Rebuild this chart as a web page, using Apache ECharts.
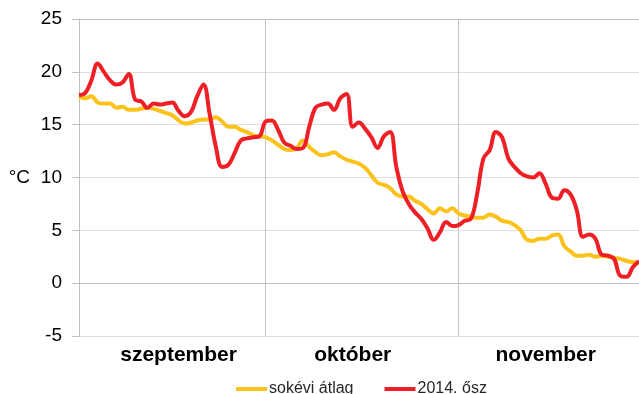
<!DOCTYPE html>
<html>
<head>
<meta charset="utf-8">
<script src="https://cdn.jsdelivr.net/npm/echarts@6/dist/echarts.min.js"></script>
<style>
  html, body { margin: 0; padding: 0; background: #fff; }
  #chart { width: 639px; height: 394px; }
</style>
</head>
<body>
<div id="chart"></div>
<script>
// Daily mean temperatures, 1 September – 30 November (°C)
const months = ['szeptember', 'október', 'november'];
const monthLengths = [30, 31, 30];
const monthLabelDays = [16, 44, 75];     // day index where each month name sits
const monthStartDays = [30, 61];         // day index of 1 Oct and 1 Nov

const yTicks = [-5, 0, 5, 10, 15, 20, 25];

// long-term average
const averageTemp = [
  17.6, 17.5, 17.7, 17.1, 17.0, 17.0, 16.6, 16.7, 16.4, 16.4,
  16.5, 16.6, 16.5, 16.3, 16.1, 15.9, 15.4, 15.1, 15.2, 15.4,
  15.5, 15.5, 15.7, 15.3, 14.8, 14.8, 14.5, 14.3, 14.0, 13.9,
  13.8, 13.5, 13.1, 12.7, 12.6, 12.8, 13.5, 12.9, 12.4, 12.1,
  12.2, 12.4, 12.0, 11.7, 11.5, 11.3, 10.9, 10.2, 9.5, 9.3,
  9.0, 8.4, 8.2, 8.2, 7.8, 7.5, 7.0, 6.6, 7.1, 6.8,
  7.1, 6.6, 6.4, 6.3, 6.2, 6.2, 6.5, 6.3, 5.9, 5.8,
  5.5, 5.0, 4.1, 4.0, 4.2, 4.2, 4.5, 4.6, 3.5, 3.0,
  2.6, 2.6, 2.7, 2.5, 2.6, 2.5, 2.4, 2.3, 2.1, 2.0,
  1.9
];

// autumn 2014
const autumn2014 = [
  17.8, 18.0, 19.2, 20.8, 20.0, 19.2, 18.8, 19.0, 19.8, 17.4,
  17.2, 16.6, 17.0, 16.9, 17.0, 17.1, 16.3, 15.8, 16.2, 17.7,
  18.8, 16.0, 12.9, 11.0, 11.2, 12.3, 13.5, 13.7, 13.8, 13.9,
  15.3, 15.4, 14.5, 13.3, 13.0, 12.7, 12.8, 14.8, 16.6, 16.9,
  17.0, 16.4, 17.5, 17.9, 14.8, 15.2, 14.6, 13.8, 12.8, 13.9,
  14.3, 11.0, 8.7, 7.5, 6.7, 6.1, 5.2, 4.1, 4.8, 5.8,
  5.4, 5.5, 5.9, 6.1, 8.5, 11.8, 12.6, 14.3, 13.8, 11.8,
  11.0, 10.4, 10.1, 10.0, 10.4, 9.4, 8.1, 8.0, 8.8, 8.4,
  6.9, 4.4, 4.6, 4.2, 2.7, 2.6, 2.3, 0.7, 0.6, 1.5,
  2.1
];

const seriesNames = ['sokévi átlag', '2014. ősz'];

// one category per day, e.g. "09-01"
const days = [];
monthLengths.forEach((len, m) => {
  for (let d = 1; d <= len; d++) {
    days.push(String(m + 9).padStart(2, '0') + '-' + String(d).padStart(2, '0'));
  }
});

function monthOfDay(i) {
  let acc = 0;
  for (let m = 0; m < monthLengths.length; m++) {
    acc += monthLengths[m];
    if (i < acc) return m;
  }
  return monthLengths.length - 1;
}

const chart = echarts.init(document.getElementById('chart'), null, { renderer: 'canvas' });

const font = '"Liberation Sans", Arial, sans-serif';

chart.setOption({
  animation: false,
  textStyle: { fontFamily: font },
  grid: { left: 79, right: 0, top: 19, bottom: 58, containLabel: false },
  legend: {
    data: seriesNames,
    left: 231,
    top: 376,
    icon: 'rect',
    itemWidth: 31,
    itemHeight: 4,
    itemGap: 31,
    textStyle: { fontSize: 16, color: '#262626', fontFamily: font, padding: [0, 0, 0, -3] }
  },
  xAxis: {
    type: 'category',
    data: days,
    boundaryGap: false,
    axisLine: { show: true, lineStyle: { color: '#bfbfbf', width: 1 } },
    axisTick: { show: false },
    axisLabel: {
      interval: (i) => monthLabelDays.includes(i),
      formatter: (v, i) => months[monthOfDay(i)],
      fontSize: 21,
      fontWeight: 'bold',
      color: '#000',
      margin: 9
    },
    splitLine: {
      show: true,
      interval: (i) => monthStartDays.includes(i),
      lineStyle: { color: '#c4c4c4', width: 1 }
    }
  },
  yAxis: {
    type: 'value',
    min: yTicks[0],
    max: yTicks[yTicks.length - 1],
    interval: 5,
    name: '°C',
    nameLocation: 'middle',
    nameRotate: 0,
    nameGap: 49,
    nameTextStyle: { fontSize: 19, color: '#000', align: 'right', verticalAlign: 'middle' },
    axisLine: { show: true, lineStyle: { color: '#bfbfbf', width: 1 } },
    axisTick: { show: true, length: 7, lineStyle: { color: '#bfbfbf' } },
    axisLabel: { fontSize: 19, color: '#000', margin: 17 },
    splitLine: {
      show: true,
      lineStyle: {
        color: ['#dedede', '#dedede', '#dedede', '#dedede', '#dedede', '#dedede', '#bdbdbd'],
        width: 1
      }
    }
  },
  series: [
    {
      name: seriesNames[0],
      type: 'line',
      data: averageTemp,
      smooth: 0.4,
      showSymbol: false,
      symbol: 'none',
      lineStyle: { color: '#fcc21c', width: 4 },
      itemStyle: { color: '#fcc21c' }
    },
    {
      name: seriesNames[1],
      type: 'line',
      data: autumn2014,
      smooth: 0.4,
      showSymbol: false,
      symbol: 'none',
      lineStyle: { color: '#ee1f25', width: 4 },
      itemStyle: { color: '#ee1f25' }
    }
  ]
});
</script>
</body>
</html>
